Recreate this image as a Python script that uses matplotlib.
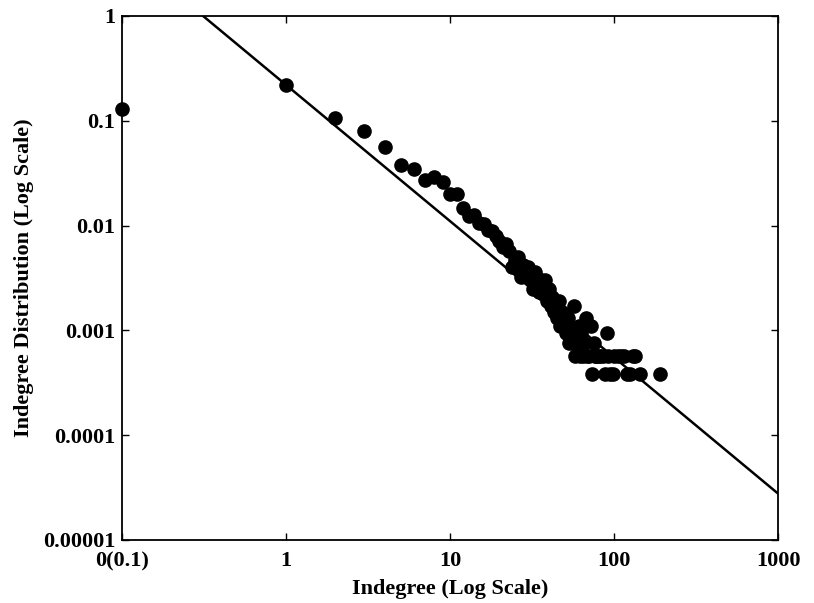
import matplotlib
matplotlib.use("Agg")
import matplotlib.pyplot as plt
import matplotlib.ticker as mtick
import numpy as np

# degree 0 is drawn at 0.1 on the log axis
degree = [0.1, 1, 2, 3, 4, 5, 6, 7, 8, 9, 10, 11, 12, 13, 14, 15, 16, 17, 18, 19,
          20, 21, 22, 23, 24, 25, 26, 27, 28, 29, 30, 31, 32, 33, 34, 35, 36, 37, 38, 39,
          40, 41, 42, 43, 44, 45, 46, 47, 48, 49, 50, 51, 52, 53, 54, 55, 56, 57, 58, 59,
          60, 61, 62, 63, 64, 65, 66, 67, 68, 70, 72, 73, 75, 77, 78, 80, 82, 85, 88, 90,
          92, 95, 98, 100, 105, 110, 115, 120, 125, 130, 135, 144, 190]
dist = [0.13, 0.22, 0.107, 0.080, 0.056, 0.038, 0.035, 0.027, 0.029, 0.026,
        0.020, 0.020, 0.0147, 0.0123, 0.0125, 0.0106, 0.0104, 0.0090, 0.0088, 0.0080,
        0.0072, 0.0063, 0.0067, 0.0057, 0.0040, 0.0047, 0.0050, 0.0032, 0.0042, 0.0036,
        0.0040, 0.0030, 0.0025, 0.0036, 0.0030, 0.0023, 0.0030, 0.0022, 0.0030, 0.0019,
        0.0025, 0.0017, 0.0021, 0.0015, 0.0017, 0.0013, 0.0019, 0.0011, 0.0015, 0.0013,
        0.0011, 0.00095, 0.0013, 0.00076, 0.0011, 0.00095, 0.00076, 0.0017, 0.00057, 0.00095,
        0.00076, 0.0011, 0.00057, 0.00095, 0.00076, 0.00057, 0.00076, 0.0013, 0.00057, 0.00057,
        0.0011, 0.00038, 0.00076, 0.00057, 0.00057, 0.00057, 0.00057, 0.00057, 0.00038, 0.00095,
        0.00057, 0.00038, 0.00038, 0.00057, 0.00057, 0.00057, 0.00057, 0.00038, 0.00038, 0.00057,
        0.00057, 0.00038, 0.00038]

# power-law fit: P(k) = c * k^-gamma
fit_c = 0.22
fit_gamma = 1.30

x_ticks = [0.1, 1, 10, 100, 1000]
x_tick_labels = ['0(0.1)', '1', '10', '100', '1000']
y_ticks = [1e-5, 1e-4, 1e-3, 1e-2, 1e-1, 1]
y_tick_labels = ['0.00001', '0.0001', '0.001', '0.01', '0.1', '1']

plt.rcParams['font.family'] = ['Liberation Serif', 'DejaVu Serif']
plt.rcParams['font.weight'] = 'bold'

fig = plt.figure(figsize=(8.14, 6.03), dpi=100)
ax = fig.add_axes([0.1499, 0.1045, 0.806, 0.869])

kx = np.logspace(-1, 3, 200)
ax.plot(kx, fit_c * kx ** (-fit_gamma), color='black', lw=1.8)
ax.plot(degree, dist, 'o', color='black', markersize=9.5, clip_on=False)

ax.set_xscale('log')
ax.set_yscale('log')
ax.set_xlim(0.1, 1000)
ax.set_ylim(1e-5, 1)
ax.set_xticks(x_ticks)
ax.set_xticklabels(x_tick_labels)
ax.set_yticks(y_ticks)
ax.set_yticklabels(y_tick_labels)
ax.xaxis.set_minor_locator(mtick.NullLocator())
ax.yaxis.set_minor_locator(mtick.NullLocator())
ax.tick_params(direction='in', length=5, width=1, top=True, right=True,
               labelsize=16, pad=5)
ax.tick_params(axis='x', pad=8)
for s in ax.spines.values():
    s.set_linewidth(1.3)

ax.set_xlabel('Indegree (Log Scale)', fontsize=16, fontweight='bold', labelpad=6)
ax.set_ylabel('Indegree Distribution (Log Scale)', fontsize=16, fontweight='bold', labelpad=6)

fig.savefig('out.png', dpi=100)
